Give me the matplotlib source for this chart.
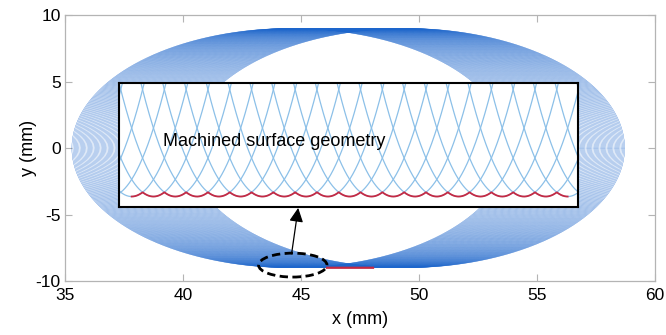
import numpy as np
import matplotlib
matplotlib.use("Agg")
import matplotlib.pyplot as plt
from matplotlib.patches import Ellipse

plt.rcParams['font.family'] = ['Liberation Sans', 'DejaVu Sans']
plt.rcParams['axes.unicode_minus'] = False

# Elliptical tool passes stepping along x
pass_start_x = 44.55
pass_end_x = 49.45
n_passes = 100
semi_axis_x = 9.26
semi_axis_y = 9.0

# Machined strip shown on the main axes
machined_x = [46.1, 48.05]

# Zoomed surface detail (inset)
detail_pitch = 0.1
detail_first_x = 0.058
detail_n_scallops = 20
detail_xlim = [0.0, 2.105]
detail_ylim = [-9.000322, -8.99652]

# Highlight of the cut region
mark_center = [44.65, -8.8]
mark_size = [2.9, 1.8]
arrow_from = [44.6, -7.95]
arrow_to = [44.88, -4.5]

x_ticks = [35, 40, 45, 50, 55, 60]
y_ticks = [-10, -5, 0, 5, 10]

path_blue = '#1d66cc'
detail_blue = '#8cc0e8'
surface_red = '#c42a44'
spine_grey = '#b4b4b4'

fig = plt.figure(figsize=(6.66, 3.35), dpi=100)
ax = fig.add_axes([0.0976, 0.161, 0.886, 0.794])

theta = np.linspace(0, 2 * np.pi, 1500)
centers = np.linspace(pass_start_x, pass_end_x, n_passes)
for c in centers:
    ax.plot(c + semi_axis_x * np.cos(theta), semi_axis_y * np.sin(theta),
            color=path_blue, lw=0.22)

# Lower envelope along the machined strip
xs = np.linspace(machined_x[0], machined_x[1], 200)
u = xs[None, :] - centers[:, None]
inside = np.abs(u) < semi_axis_x
ys = np.where(inside, -semi_axis_y * np.sqrt(np.clip(1 - (u / semi_axis_x) ** 2, 0, None)), np.inf)
ax.plot(xs, ys.min(axis=0), color=surface_red, lw=1.6, zorder=3)

ax.add_patch(Ellipse(mark_center, mark_size[0], mark_size[1], fill=False,
                     edgecolor='black', lw=2, linestyle=(0, (3, 1.6)), zorder=4))
ax.annotate('', xy=arrow_to, xytext=arrow_from,
            arrowprops=dict(arrowstyle='-|>,head_length=0.6,head_width=0.3',
                            color='black', lw=0.9,
                            mutation_scale=14, shrinkA=0, shrinkB=0), zorder=5)

ax.set_xlim(35, 60)
ax.set_ylim(-10, 10)
ax.set_xticks(x_ticks)
ax.set_yticks(y_ticks)
ax.tick_params(direction='in', length=5, width=0.8, color=spine_grey,
               labelsize=12.5, top=True, right=True, labelcolor='black')
ax.tick_params(axis='x', pad=5)
ax.tick_params(axis='y', pad=3)
for s in ax.spines.values():
    s.set_color(spine_grey)
    s.set_linewidth(0.9)
ax.set_xlabel('x (mm)', fontsize=13, labelpad=6)
ax.set_ylabel('y (mm)', fontsize=13, labelpad=-1)

# Inset: zoom of the scalloped surface left by successive passes
axi = fig.add_axes([0.1787, 0.382, 0.689, 0.370])
axi.set_facecolor('white')
dx = np.linspace(detail_xlim[0], detail_xlim[1], 1500)
arc_idx = np.arange(-12, detail_n_scallops + 13)
arc_centers = detail_first_x + arc_idx * detail_pitch
du = dx[None, :] - arc_centers[:, None]
dy = -semi_axis_y * np.sqrt(1 - (du / semi_axis_x) ** 2)
for row in dy:
    axi.plot(dx, row, color=detail_blue, lw=0.9)
sx = np.linspace(detail_first_x, detail_first_x + detail_n_scallops * detail_pitch, 1500)
su = sx[None, :] - arc_centers[:, None]
sy = (-semi_axis_y * np.sqrt(1 - (su / semi_axis_x) ** 2)).min(axis=0)
axi.plot(sx, sy, color=surface_red, lw=1.3)
axi.set_xlim(detail_xlim)
axi.set_ylim(detail_ylim)
axi.set_xticks([])
axi.set_yticks([])
for s in axi.spines.values():
    s.set_color('black')
    s.set_linewidth(1.5)
axi.text(0.095, 0.53, 'Machined surface geometry', transform=axi.transAxes,
         fontsize=13, ha='left', va='center', color='black')

fig.savefig('out.png', dpi=100)
